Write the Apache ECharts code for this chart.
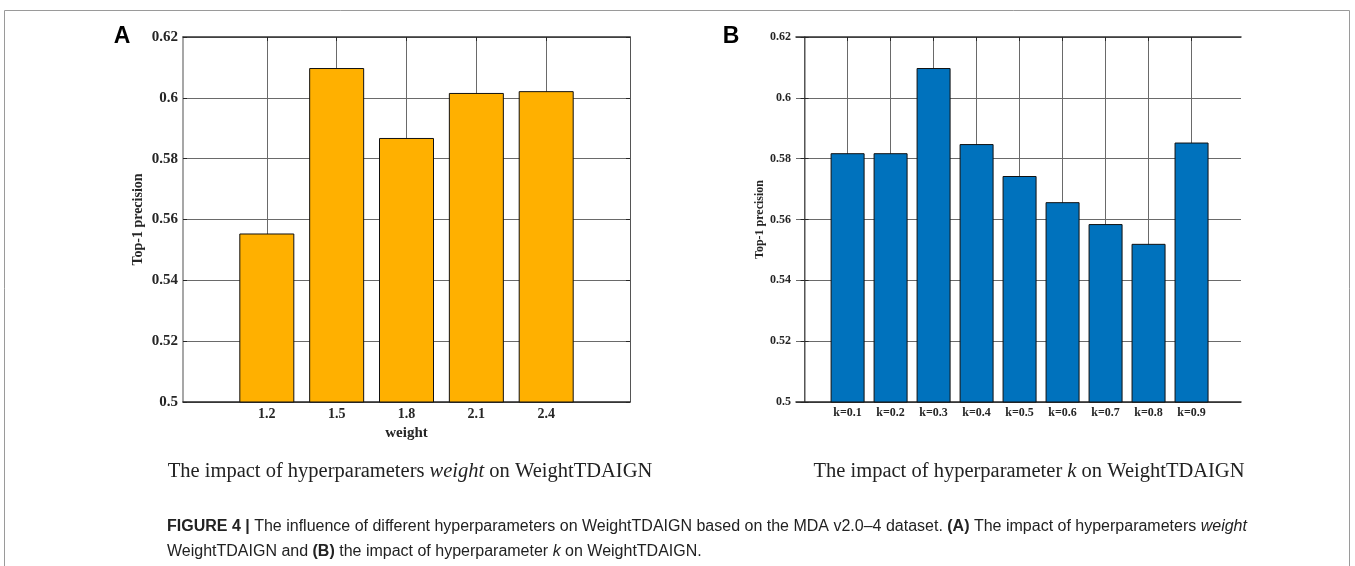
<!DOCTYPE html>
<html>
<head>
<meta charset="utf-8">
<script src="https://cdn.jsdelivr.net/npm/echarts@6/dist/echarts.min.js"></script>
<style>
html,body{margin:0;padding:0;background:#fff;}
#chart{width:1355px;height:566px;}
</style>
</head>
<body>
<div id="chart"></div>
<script>
// ---- data ----
const weightCats = [1.2, 1.5, 1.8, 2.1, 2.4];
const weightVals = [0.5554, 0.6098, 0.5868, 0.6016, 0.6022];
const kCats = ['k=0.1','k=0.2','k=0.3','k=0.4','k=0.5','k=0.6','k=0.7','k=0.8','k=0.9'];
const kVals = [0.5818, 0.5818, 0.6098, 0.5848, 0.5743, 0.5657, 0.5585, 0.5520, 0.5853];
const yTicks = [0.5, 0.52, 0.54, 0.56, 0.58, 0.6, 0.62];

const kPos = kCats.map((c, i) => i + 1);
const serif = "'Liberation Serif', 'Times New Roman', serif";
const sans = "'Liberation Sans', Arial, Helvetica, sans-serif";
const axisCol = '#262626';
const gridCol = '#6a6a6a';

const chart = echarts.init(document.getElementById('chart'), null, {renderer: 'canvas'});

function yAxisMain(gi, fs, gap, nfs) {
  return {
    type: 'value', gridIndex: gi, min: yTicks[0], max: yTicks[yTicks.length - 1], interval: 0.02,
    axisLine: {show: true, lineStyle: {color: '#8a8a8a', width: 1.5}},
    axisTick: {show: true, inside: true, length: 4, lineStyle: {color: axisCol}},
    axisLabel: {show: true, margin: 5, color: axisCol, fontFamily: serif, fontWeight: 'bold', fontSize: fs,
      formatter: v => String(+v.toFixed(2))},
    splitLine: {show: true, lineStyle: {color: gridCol, width: 1}},
    name: 'Top-1 precision', nameLocation: 'middle', nameGap: gap,
    nameTextStyle: {color: axisCol, fontFamily: serif, fontWeight: 'bold', fontSize: nfs}
  };
}
function yAxisRight(gi) {
  return {
    type: 'value', gridIndex: gi, position: 'right', min: yTicks[0], max: yTicks[yTicks.length - 1], interval: 0.02,
    axisLine: {show: true, lineStyle: {color: '#555', width: 1}},
    axisTick: {show: true, inside: true, length: 4, lineStyle: {color: axisCol}},
    axisLabel: {show: false}, splitLine: {show: false}
  };
}

const option = {
  animation: false,
  backgroundColor: '#fff',
  grid: [
    {left: 183, top: 37, width: 447, height: 365, containLabel: false},
    {left: 796, top: 37, width: 445, height: 365, containLabel: false}
  ],
  xAxis: [
    {
      type: 'value', gridIndex: 0, min: 0.84, max: 2.76,
      axisLine: {show: true, onZero: false, lineStyle: {color: axisCol, width: 1.5}},
      axisTick: {show: true, inside: true, length: 4, customValues: weightCats, lineStyle: {color: axisCol}},
      axisLabel: {show: true, customValues: weightCats, margin: 5, color: axisCol, fontFamily: serif, fontWeight: 'bold', fontSize: 14,
        formatter: v => v.toFixed(1)},
      splitLine: {show: true, lineStyle: {color: gridCol, width: 1}},
      name: 'weight', nameLocation: 'middle', nameGap: 21,
      nameTextStyle: {color: axisCol, fontFamily: serif, fontWeight: 'bold', fontSize: 15}
    },
    {
      type: 'value', gridIndex: 0, position: 'top', min: 0.84, max: 2.76,
      axisLine: {show: true, onZero: false, lineStyle: {color: '#333', width: 1.5}},
      axisTick: {show: true, inside: true, length: 4, customValues: weightCats, lineStyle: {color: axisCol}},
      axisLabel: {show: false}, splitLine: {show: false}
    },
    {
      type: 'value', gridIndex: 1, min: -0.2, max: 10.15,
      axisLine: {show: true, onZero: false, lineStyle: {color: axisCol, width: 1.5}},
      axisTick: {show: true, inside: true, length: 4, customValues: kPos, lineStyle: {color: axisCol}},
      axisLabel: {show: true, customValues: kPos, margin: 5, color: axisCol, fontFamily: serif, fontWeight: 'bold', fontSize: 12,
        formatter: v => kCats[Math.round(v) - 1] || ''},
      splitLine: {show: true, lineStyle: {color: gridCol, width: 1}}
    },
    {
      type: 'value', gridIndex: 1, position: 'top', min: -0.2, max: 10.15,
      axisLine: {show: true, onZero: false, lineStyle: {color: '#333', width: 1.5}},
      axisTick: {show: true, inside: true, length: 4, customValues: kPos, lineStyle: {color: axisCol}},
      axisLabel: {show: false}, splitLine: {show: false}
    }
  ],
  yAxis: [
    yAxisMain(0, 15, 38, 14),
    yAxisRight(0),
    yAxisMain(1, 12, 30, 12),
    yAxisRight(1)
  ],
  series: [
    {
      type: 'bar', xAxisIndex: 0, yAxisIndex: 0, barWidth: 55, clip: true,
      itemStyle: {color: '#FFB000', borderColor: '#111', borderWidth: 1},
      data: weightCats.map((x, i) => [x, weightVals[i]])
    },
    {
      type: 'bar', xAxisIndex: 2, yAxisIndex: 2, barWidth: 34, clip: true,
      itemStyle: {color: '#0072BD', borderColor: '#111', borderWidth: 1},
      data: kPos.map((x, i) => [x, kVals[i]])
    }
  ],
  graphic: [
    {type: 'rect', silent: true, shape: {x: 4.5, y: 10.5, width: 1345, height: 600},
      style: {fill: 'none', stroke: '#9a9a9a', lineWidth: 1}},
    {type: 'text', x: 122, y: 37, style: {text: 'A', font: "bold 23px " + sans, fill: '#000', align: 'center', verticalAlign: 'middle'}},
    {type: 'text', x: 731, y: 37, style: {text: 'B', font: "bold 23px " + sans, fill: '#000', align: 'center', verticalAlign: 'middle'}},
    {type: 'text', x: 410, y: 472, style: {
      text: '{n|The impact of hyperparameters }{i|weight}{n| on WeightTDAIGN}', align: 'center', verticalAlign: 'middle',
      rich: {n: {font: "20.5px " + serif, fill: '#222'}, i: {font: "italic 20.5px " + serif, fill: '#222'}}}},
    {type: 'text', x: 1029, y: 472, style: {
      text: '{n|The impact of hyperparameter }{i|k}{n| on WeightTDAIGN}', align: 'center', verticalAlign: 'middle',
      rich: {n: {font: "20.5px " + serif, fill: '#222'}, i: {font: "italic 20.5px " + serif, fill: '#222'}}}},
    {type: 'text', x: 167, y: 527, style: {
      text: '{b|FIGURE 4 |}{n| The influence of different hyperparameters on WeightTDAIGN based on the MDA v2.0\u20134 dataset. }{b|(A)}{n| The impact of hyperparameters }{i|weight}',
      align: 'left', verticalAlign: 'middle',
      rich: {n: {font: "16px " + sans, fill: '#222'}, b: {font: "bold 16px " + sans, fill: '#222'}, i: {font: "italic 16px " + sans, fill: '#222'}}}},
    {type: 'text', x: 167, y: 552, style: {
      text: '{n|WeightTDAIGN and }{b|(B)}{n| the impact of hyperparameter }{i|k}{n| on WeightTDAIGN.}',
      align: 'left', verticalAlign: 'middle',
      rich: {n: {font: "16px " + sans, fill: '#222'}, b: {font: "bold 16px " + sans, fill: '#222'}, i: {font: "italic 16px " + sans, fill: '#222'}}}}
  ]
};
chart.setOption(option);
</script>
</body>
</html>
